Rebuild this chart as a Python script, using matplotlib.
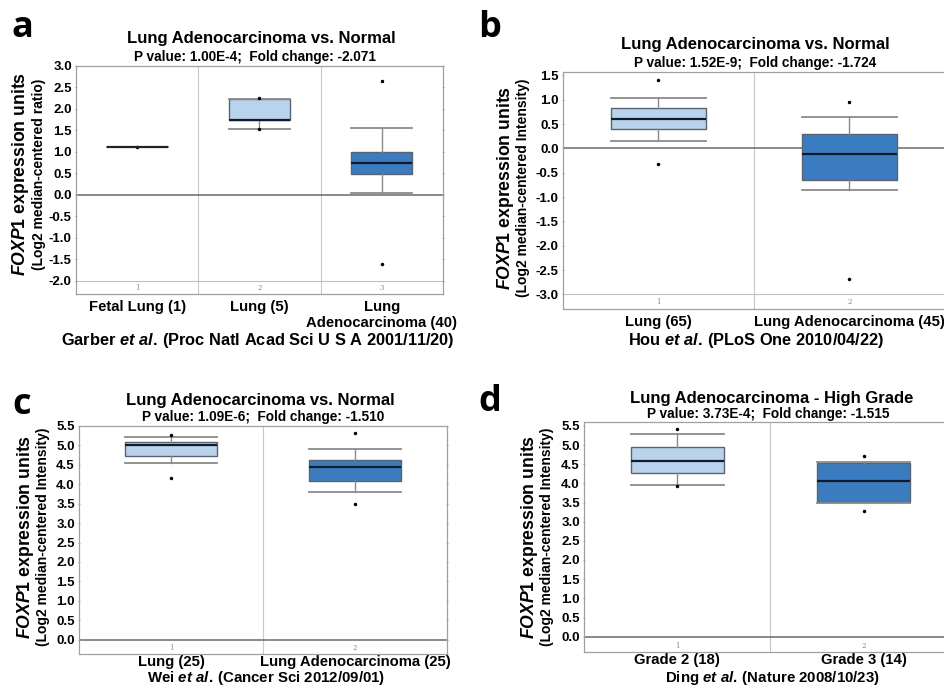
import numpy as np
import matplotlib
matplotlib.use('Agg')
import matplotlib.pyplot as plt
import matplotlib.transforms as mtrans
from matplotlib.ticker import FormatStrFormatter

plt.rcParams['font.family'] = 'Liberation Sans'
plt.rcParams['font.weight'] = 'bold'
plt.rcParams['mathtext.fontset'] = 'custom'
plt.rcParams['mathtext.rm'] = 'Liberation Sans:bold'
plt.rcParams['mathtext.bf'] = 'Liberation Sans:bold'
plt.rcParams['mathtext.it'] = 'Liberation Sans:italic:bold'

W, H = 945, 689

LIGHT = '#b9d3ec'
DARK = '#3b7cc0'

# ---------------- data ---------------- #

a_labels = ['Fetal Lung (1)', 'Lung (5)', 'Lung\nAdenocarcinoma (40)']
a_q1 = [1.12, 1.75, 0.48]
a_med = [1.12, 1.75, 0.74]
a_q3 = [1.12, 2.22, 1.00]
a_lo = [1.12, 1.54, 0.05]
a_hi = [1.12, 2.24, 1.55]
a_dots = [[1.12], [2.25, 1.53], [2.66, -1.61]]

b_labels = ['Lung (65)', 'Lung Adenocarcinoma (45)']
b_q1 = [0.39, -0.64]
b_med = [0.60, -0.12]
b_q3 = [0.83, 0.30]
b_lo = [0.16, -0.85]
b_hi = [1.04, 0.65]
b_dots = [[1.40, -0.32], [0.95, -2.68]]

c_labels = ['Lung (25)', 'Lung Adenocarcinoma (25)']
c_q1 = [4.72, 4.08]
c_med = [5.02, 4.44]
c_q3 = [5.10, 4.62]
c_lo = [4.54, 3.79]
c_hi = [5.21, 4.91]
c_dots = [[5.27, 4.16], [5.32, 3.50]]

d_labels = ['Grade 2 (18)', 'Grade 3 (14)']
d_q1 = [4.27, 3.52]
d_med = [4.58, 4.06]
d_q3 = [4.95, 4.53]
d_lo = [3.95, 3.50]
d_hi = [5.30, 4.56]
d_dots = [[5.43, 3.92], [4.72, 3.27]]

# ---------------- helpers ---------------- #

fig = plt.figure(figsize=(W / 100, H / 100), dpi=100)


def px(x, y):
    return x / W, 1 - y / H


def add_axes(l, t, r, b):
    return fig.add_axes([l / W, 1 - b / H, (r - l) / W, (b - t) / H])


def panel(ax, labels, q1, med, q3, lo, hi, dots, colors, ylim, ymin_tick, ymax_tick, xpad=4):
    n = len(labels)
    pos = np.arange(1, n + 1)
    stats = []
    for i in range(n):
        stats.append(dict(med=med[i], q1=q1[i], q3=q3[i], whislo=lo[i],
                          whishi=hi[i], fliers=np.array(dots[i])))
    bp = ax.bxp(stats, positions=pos, widths=0.5, capwidths=0.5,
                patch_artist=True, showfliers=True,
                boxprops=dict(edgecolor='#5a6470', linewidth=1.0),
                medianprops=dict(color='#0f1a2a', linewidth=1.6),
                whiskerprops=dict(color='#8a8a8a', linewidth=1.0),
                capprops=dict(color='#8a8a8a', linewidth=1.3),
                flierprops=dict(marker='o', markersize=1.5, markerfacecolor='k',
                                markeredgecolor='k'))
    for patch, c in zip(bp['boxes'], colors):
        patch.set_facecolor(c)
        if c == 'none':
            patch.set_edgecolor('none')
    for i in range(n):
        if colors[i] == 'none':
            bp['medians'][i].set_color('#222222')

    for x in pos[:-1] + 0.5:
        ax.axvline(x, color='#c8c8c8', lw=0.8, zorder=0)
    ax.axhline(0, color='#6a6a6a', lw=1.1, zorder=0.5)
    if ymin_tick < 0:
        ax.axhline(ymin_tick, color='#c0c0c0', lw=0.8, zorder=0.5)

    ax.set_xlim(0.5, n + 0.5)
    ax.yaxis.set_major_formatter(FormatStrFormatter('%.1f'))
    ax.set_yticks(np.arange(ymin_tick, ymax_tick + 0.01, 0.5))
    ax.set_ylim(*ylim)
    ax.tick_params(axis='y', labelsize=9.5, length=2, color='#aaaaaa', pad=2,
                   right=True, direction='inout')
    ax.set_xticks(pos, labels)
    ax.tick_params(axis='x', length=0, labelsize=10.7, pad=xpad)
    for s in ax.spines.values():
        s.set_color('#a0a0a0')
        s.set_linewidth(0.9)

    trans = mtrans.blended_transform_factory(ax.transData, ax.transAxes)
    for p in pos:
        ax.text(p, 0.028, str(p), transform=trans, ha='center', va='center',
                fontsize=5, color='#888888', family='DejaVu Serif',
                weight='normal')


def texts(letter, lxy, title, txy, sub, sxy, cite, cxy, ylab2, y1x, y2x, ycy, csize=11.8):
    fig.text(*px(*lxy), letter, fontsize=26, family='Open Sans',
             weight='bold', ha='center', va='center')
    fig.text(*px(*txy), title, fontsize=12, ha='center', va='center')
    fig.text(*px(*sxy), sub, fontsize=9.8, ha='center', va='center')
    fig.text(*px(*cxy), cite, fontsize=csize, ha='center', va='center')
    fig.text(*px(y1x, ycy), r'$\mathit{FOXP1}$ expression units', fontsize=12.7,
             rotation=90, ha='center', va='center')
    fig.text(*px(y2x, ycy), ylab2, fontsize=10, rotation=90,
             ha='center', va='center')


# ---------------- panel a ---------------- #
ax_a = add_axes(76, 66, 443, 294)
panel(ax_a, a_labels, a_q1, a_med, a_q3, a_lo, a_hi, a_dots,
      ['none', LIGHT, DARK], (-2.31, 3.0), -2.0, 3.0)
texts('a', (22, 28), 'Lung Adenocarcinoma vs. Normal', (261, 38),
      'P value: 1.00E-4;  Fold change: -2.071', (255, 57),
      r'Garber $\mathit{et\ al.}\,$(Proc Natl Acad Sci U S A 2001/11/20)', (258, 340),
      '(Log2 median-centered ratio)', 21, 39, 174)

# ---------------- panel b ---------------- #
ax_b = add_axes(563, 72, 945, 309)
panel(ax_b, b_labels, b_q1, b_med, b_q3, b_lo, b_hi, b_dots,
      [LIGHT, DARK], (-3.30, 1.57), -3.0, 1.5)
texts('b', (490, 28), 'Lung Adenocarcinoma vs. Normal', (755, 45),
      'P value: 1.52E-9;  Fold change: -1.724', (755, 63),
      r'Hou $\mathit{et\ al.}\,$(PLoS One 2010/04/22)', (756, 340),
      '(Log2 median-centered Intensity)', 505, 523, 188)

# ---------------- panel c ---------------- #
ax_c = add_axes(79, 426, 447, 654)
panel(ax_c, c_labels, c_q1, c_med, c_q3, c_lo, c_hi, c_dots,
      [LIGHT, DARK], (-0.37, 5.5), 0.0, 5.5, xpad=1)
texts('c', (22, 405), 'Lung Adenocarcinoma vs. Normal', (260, 400),
      'P value: 1.09E-6;  Fold change: -1.510', (263, 417),
      r'Wei $\mathit{et\ al.}\,$(Cancer Sci 2012/09/01)', (266, 678),
      '(Log2 median-centered Intensity)', 26, 43, 537, csize=10.8)

# ---------------- panel d ---------------- #
ax_d = add_axes(584, 422, 957, 652)
panel(ax_d, d_labels, d_q1, d_med, d_q3, d_lo, d_hi, d_dots,
      [LIGHT, DARK], (-0.40, 5.6), 0.0, 5.5, xpad=1)
texts('d', (490, 402), 'Lung Adenocarcinoma - High Grade', (772, 399),
      'P value: 3.73E-4;  Fold change: -1.515', (768, 414),
      r'Ding $\mathit{et\ al.}\,$(Nature 2008/10/23)', (772, 678),
      '(Log2 median-centered Intensity)', 529, 547, 537, csize=10.8)

fig.savefig('out.png', dpi=100)
